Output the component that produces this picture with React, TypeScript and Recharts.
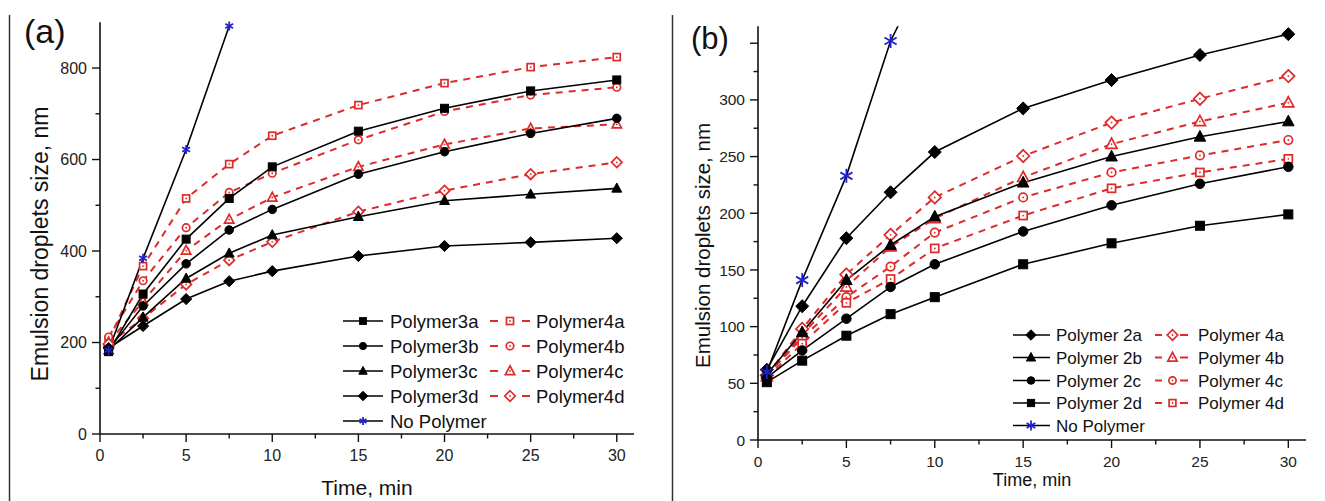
import React from 'react';
import { LineChart, Line, XAxis, YAxis } from 'recharts';

// ---------- data ----------
const timesA = [0.5, 2.5, 5, 7.5, 10, 15, 20, 25, 30];
const polymer3a = [180, 306, 426, 515, 584, 662, 712, 750, 774];
const polymer3b = [185, 280, 372, 446, 491, 568, 617, 657, 690];
const polymer3c = [183, 255, 340, 395, 435, 475, 510, 524, 537];
const polymer3d = [188, 236, 295, 334, 356, 389, 411, 419, 428];
const polymer4aA = [205, 367, 515, 590, 652, 719, 767, 802, 824];
const polymer4bA = [212, 335, 451, 528, 570, 643, 705, 741, 758];
const polymer4cA = [200, 290, 401, 469, 517, 584, 633, 668, 677];
const polymer4dA = [197, 253, 327, 380, 420, 486, 532, 568, 594];
const noPolymerA = [183, 384, 622, 892];

const timesB = [0.5, 2.5, 5, 7.5, 10, 15, 20, 25, 30];
const polymer2a = [62, 118, 178, 218.5, 254, 292.5, 317.5, 339.6, 358];
const polymer2b = [58, 95, 141, 172, 197, 227, 250, 267.5, 281];
const polymer2c = [55, 79, 107, 135, 155, 184, 207, 226, 241];
const polymer2d = [51, 70, 92, 111, 126, 155, 173.5, 189, 199];
const polymer4aB = [57, 98, 146, 181, 214, 250.5, 280, 301, 321];
const polymer4bB = [56, 93, 135, 170.5, 195.5, 231.7, 261, 281, 297.5];
const polymer4cB = [57, 90, 126, 153, 183, 214, 236, 251, 264.6];
const polymer4dB = [55, 85, 121, 142, 169, 198, 222, 236, 248];
const noPolymerB = [60, 141, 233, 352, 430];

const xTicks = [0, 2.5, 5, 7.5, 10, 12.5, 15, 17.5, 20, 22.5, 25, 27.5, 30];
const yTicksA = [0, 100, 200, 300, 400, 500, 600, 700, 800];
const yTicksB = [0, 25, 50, 75, 100, 125, 150, 175, 200, 225, 250, 275, 300, 325, 350];

const dataA = timesA.map((t, i) => ({
  t,
  p3a: polymer3a[i], p3b: polymer3b[i], p3c: polymer3c[i], p3d: polymer3d[i],
  p4a: polymer4aA[i], p4b: polymer4bA[i], p4c: polymer4cA[i], p4d: polymer4dA[i],
  np: noPolymerA[i],
}));
const dataB = timesB.map((t, i) => ({
  t,
  p2a: polymer2a[i], p2b: polymer2b[i], p2c: polymer2c[i], p2d: polymer2d[i],
  p4a: polymer4aB[i], p4b: polymer4bB[i], p4c: polymer4cB[i], p4d: polymer4dB[i],
  np: noPolymerB[i],
}));

// ---------- styles ----------
const RED = '#dd2a2a';
const BLUE = '#2222cc';
const FONT = '"Liberation Sans", Arial, sans-serif';

type Shape = 'square' | 'circle' | 'triangle' | 'diamond' | 'star';

function Marker({ shape, cx, cy, s, color, open }: { shape: Shape; cx: number; cy: number; s: number; color: string; open?: boolean }) {
  const fill = open ? '#fff' : color;
  const sw = open ? 1.7 : 1;
  const dotIn = open ? <circle cx={cx} cy={cy} r={0.9} fill={color} /> : null;
  if (shape === 'square') {
    return (
      <g>
        <rect x={cx - s / 2} y={cy - s / 2} width={s} height={s} fill={fill} stroke={color} strokeWidth={sw} />
        {dotIn}
      </g>
    );
  }
  if (shape === 'circle') {
    return (
      <g>
        <circle cx={cx} cy={cy} r={s / 2} fill={fill} stroke={color} strokeWidth={sw} />
        {dotIn}
      </g>
    );
  }
  if (shape === 'triangle') {
    const pts = `${cx},${cy - s * 0.6} ${cx - s * 0.55},${cy + s * 0.42} ${cx + s * 0.55},${cy + s * 0.42}`;
    return (
      <g>
        <polygon points={pts} fill={fill} stroke={color} strokeWidth={sw} strokeLinejoin="miter" />
        {dotIn}
      </g>
    );
  }
  if (shape === 'diamond') {
    const h = s * 0.62;
    const pts = `${cx},${cy - h} ${cx + h},${cy} ${cx},${cy + h} ${cx - h},${cy}`;
    return (
      <g>
        <polygon points={pts} fill={fill} stroke={color} strokeWidth={sw} />
        {dotIn}
      </g>
    );
  }
  // star (asterisk)
  const r = s / 2;
  const lines = [90, 30, 150].map((a) => {
    const rad = (a * Math.PI) / 180;
    const dx = Math.cos(rad) * r;
    const dy = Math.sin(rad) * r;
    return <line key={a} x1={cx - dx} y1={cy - dy} x2={cx + dx} y2={cy + dy} stroke={color} strokeWidth={1.8} />;
  });
  return <g>{lines}</g>;
}

const makeDot = (shape: Shape, s: number, color: string, open: boolean, maxVal?: number) => (p: any) => {
  const k = `d-${p.index}`;
  if (p.cx == null || p.cy == null || p.value == null || (maxVal !== undefined && p.value > maxVal)) return <g key={k} />;
  return (
    <g key={k}>
      <Marker shape={shape} cx={p.cx} cy={p.cy} s={s} color={color} open={open} />
    </g>
  );
};

const makeXTick = (fontSize: number) => (p: any) => {
  const v = p.payload.value;
  const major = v % 5 === 0;
  return (
    <g>
      <line x1={p.x} y1={p.y} x2={p.x} y2={p.y + (major ? 8 : 4.5)} stroke="#111" strokeWidth={1.4} />
      {major && (
        <text x={p.x} y={p.y + 27} textAnchor="middle" fontSize={fontSize} fontFamily={FONT} fill="#222">
          {v}
        </text>
      )}
    </g>
  );
};

const makeYTick = (fontSize: number, majorStep: number, maxLabel: number) => (p: any) => {
  const v = p.payload.value;
  const major = v % majorStep === 0;
  return (
    <g>
      <line x1={p.x} y1={p.y} x2={p.x - (major ? 8 : 4.5)} y2={p.y} stroke="#111" strokeWidth={1.4} />
      {major && v <= maxLabel && (
        <text x={p.x - 13} y={p.y + fontSize * 0.36} textAnchor="end" fontSize={fontSize} fontFamily={FONT} fill="#222">
          {v}
        </text>
      )}
    </g>
  );
};

type SeriesDef = { key: string; name: string; shape: Shape; red: boolean; s: number };

const seriesA: SeriesDef[] = [
  { key: 'p4a', name: 'Polymer4a', shape: 'square', red: true, s: 7 },
  { key: 'p4b', name: 'Polymer4b', shape: 'circle', red: true, s: 7.5 },
  { key: 'p4c', name: 'Polymer4c', shape: 'triangle', red: true, s: 8.5 },
  { key: 'p4d', name: 'Polymer4d', shape: 'diamond', red: true, s: 8.5 },
  { key: 'p3a', name: 'Polymer3a', shape: 'square', red: false, s: 8 },
  { key: 'p3b', name: 'Polymer3b', shape: 'circle', red: false, s: 8.5 },
  { key: 'p3c', name: 'Polymer3c', shape: 'triangle', red: false, s: 9 },
  { key: 'p3d', name: 'Polymer3d', shape: 'diamond', red: false, s: 9 },
];

const seriesB: SeriesDef[] = [
  { key: 'p4a', name: 'Polymer 4a', shape: 'diamond', red: true, s: 10 },
  { key: 'p4b', name: 'Polymer 4b', shape: 'triangle', red: true, s: 10 },
  { key: 'p4c', name: 'Polymer 4c', shape: 'circle', red: true, s: 8.5 },
  { key: 'p4d', name: 'Polymer 4d', shape: 'square', red: true, s: 8 },
  { key: 'p2a', name: 'Polymer 2a', shape: 'diamond', red: false, s: 10.5 },
  { key: 'p2b', name: 'Polymer 2b', shape: 'triangle', red: false, s: 10.5 },
  { key: 'p2c', name: 'Polymer 2c', shape: 'circle', red: false, s: 9.5 },
  { key: 'p2d', name: 'Polymer 2d', shape: 'square', red: false, s: 9 },
];

const renderSeries = (defs: SeriesDef[]) =>
  defs.map((d) => (
    <Line
      key={d.key}
      type="linear"
      dataKey={d.key}
      name={d.name}
      stroke={d.red ? RED : '#000'}
      strokeWidth={d.red ? 2 : 1.6}
      strokeDasharray={d.red ? '7 6' : undefined}
      dot={makeDot(d.shape, d.s, d.red ? RED : '#000', d.red)}
      activeDot={false}
      isAnimationActive={false}
    />
  ));

const axisLine = { stroke: '#111', strokeWidth: 1.6 };

function ChartA() {
  return (
    <LineChart width={660} height={501} data={dataA} margin={{ top: 22.3, right: 26, bottom: 37, left: 40 }}>
      <XAxis
        type="number"
        dataKey="t"
        domain={[0, 31]}
        ticks={xTicks}
        interval={0}
        height={30}
        tickSize={0}
        tickMargin={0}
        tickLine={false}
        axisLine={axisLine}
        tick={makeXTick(16)}
      />
      <YAxis
        type="number"
        domain={[0, 900]}
        ticks={yTicksA}
        interval={0}
        width={60}
        tickSize={0}
        tickMargin={0}
        tickLine={false}
        axisLine={axisLine}
        tick={makeYTick(16, 200, 800)}
      />
      {renderSeries(seriesA)}
      <Line
        type="linear"
        dataKey="np"
        name="No Polymer"
        stroke="#000"
        strokeWidth={1.6}
        dot={makeDot('star', 9, BLUE, false)}
        activeDot={false}
        isAnimationActive={false}
      />
    </LineChart>
  );
}

function ChartB() {
  return (
    <LineChart width={665} height={501} data={dataB} margin={{ top: 26.2, right: 19, bottom: 31, left: 38 }}>
      <XAxis
        type="number"
        dataKey="t"
        domain={[0, 31]}
        ticks={xTicks}
        interval={0}
        height={30}
        tickSize={0}
        tickMargin={0}
        tickLine={false}
        axisLine={axisLine}
        tick={makeXTick(15.5)}
      />
      <YAxis
        type="number"
        domain={[0, 365]}
        allowDataOverflow
        ticks={yTicksB}
        interval={0}
        width={60}
        tickSize={0}
        tickMargin={0}
        tickLine={false}
        axisLine={axisLine}
        tick={makeYTick(15.5, 50, 300)}
      />
      {renderSeries(seriesB)}
      <Line
        type="linear"
        dataKey="np"
        name="No Polymer"
        stroke="#000"
        strokeWidth={1.6}
        dot={makeDot('star', 14, BLUE, false, 365)}
        activeDot={false}
        isAnimationActive={false}
      />
    </LineChart>
  );
}

// ---------- legends / titles overlay ----------
function LegendA() {
  const rowsY = [321, 346, 371, 396];
  const black = seriesA.filter((d) => !d.red);
  const red = seriesA.filter((d) => d.red);
  const fs = 18.5;
  return (
    <g fontFamily={FONT} fontSize={fs} fill="#111">
      {black.map((d, i) => (
        <g key={d.key}>
          <line x1={343} x2={383} y1={rowsY[i]} y2={rowsY[i]} stroke="#000" strokeWidth={1.6} />
          <Marker shape={d.shape} cx={363} cy={rowsY[i]} s={d.s * 0.85} color="#000" />
          <text x={390} y={rowsY[i] + 6.8}>{d.name}</text>
        </g>
      ))}
      {red.map((d, i) => (
        <g key={d.key}>
          <line x1={490} x2={498} y1={rowsY[i]} y2={rowsY[i]} stroke={RED} strokeWidth={2} />
          <line x1={522} x2={530} y1={rowsY[i]} y2={rowsY[i]} stroke={RED} strokeWidth={2} />
          <Marker shape={d.shape} cx={510} cy={rowsY[i]} s={d.s} color={RED} open />
          <text x={536} y={rowsY[i] + 6.8}>{d.name}</text>
        </g>
      ))}
      <line x1={343} x2={383} y1={421} y2={421} stroke="#000" strokeWidth={1.6} />
      <Marker shape="star" cx={363} cy={421} s={8} color={BLUE} />
      <text x={390} y={421 + 6.8}>No Polymer</text>
    </g>
  );
}

function LegendB() {
  const rowsY = [335, 357.5, 380.5, 403];
  const black = seriesB.filter((d) => !d.red);
  const red = seriesB.filter((d) => d.red);
  const fs = 17;
  return (
    <g fontFamily={FONT} fontSize={fs} fill="#111">
      {black.map((d, i) => (
        <g key={d.key}>
          <line x1={1013} x2={1050} y1={rowsY[i]} y2={rowsY[i]} stroke="#000" strokeWidth={1.6} />
          <Marker shape={d.shape} cx={1031} cy={rowsY[i]} s={d.s * 0.8} color="#000" />
          <text x={1056} y={rowsY[i] + 6.2}>{d.name}</text>
        </g>
      ))}
      {red.map((d, i) => (
        <g key={d.key}>
          <line x1={1155} x2={1162} y1={rowsY[i]} y2={rowsY[i]} stroke={RED} strokeWidth={2} />
          <line x1={1180} x2={1188} y1={rowsY[i]} y2={rowsY[i]} stroke={RED} strokeWidth={2} />
          <Marker shape={d.shape} cx={1172.5} cy={rowsY[i]} s={d.s * 0.85} color={RED} open />
          <text x={1198} y={rowsY[i] + 6.2}>{d.name}</text>
        </g>
      ))}
      <line x1={1013} x2={1050} y1={425.5} y2={425.5} stroke="#000" strokeWidth={1.6} />
      <Marker shape="star" cx={1031} cy={425.5} s={10} color={BLUE} />
      <text x={1056} y={425.5 + 6.2}>No Polymer</text>
    </g>
  );
}

function Overlay() {
  return (
    <svg width={1325} height={501} style={{ position: 'absolute', left: 0, top: 0, pointerEvents: 'none' }}>
      <line x1={9.5} y1={15} x2={9.5} y2={501} stroke="#333" strokeWidth={1.5} />
      <line x1={672.5} y1={15} x2={672.5} y2={501} stroke="#333" strokeWidth={1.5} />
      <text x={24} y={43} fontFamily={FONT} fontSize={34} fill="#111">(a)</text>
      <text x={691} y={48.5} fontFamily={FONT} fontSize={31} fill="#111">(b)</text>
      <text
        x={0}
        y={0}
        transform="translate(48,244) rotate(-90)"
        textAnchor="middle"
        fontFamily={FONT}
        fontSize={23}
        fill="#111"
      >
        Emulsion droplets size, nm
      </text>
      <text
        x={0}
        y={0}
        transform="translate(710,245.5) rotate(-90)"
        textAnchor="middle"
        fontFamily={FONT}
        fontSize={20.5}
        fill="#111"
      >
        Emulsion droplets size, nm
      </text>
      <text x={367} y={495} textAnchor="middle" fontFamily={FONT} fontSize={21} fill="#111">Time, min</text>
      <text x={1032} y={486} textAnchor="middle" fontFamily={FONT} fontSize={18} fill="#111">Time, min</text>
      <LegendA />
      <LegendB />
    </svg>
  );
}

export default function App() {
  return (
    <div style={{ position: 'absolute', left: 0, top: 0, width: 1325, height: 501, background: '#fff', overflow: 'hidden' }}>
      <div style={{ position: 'absolute', left: 0, top: 0 }}>
        <ChartA />
      </div>
      <div style={{ position: 'absolute', left: 660, top: 0 }}>
        <ChartB />
      </div>
      <Overlay />
    </div>
  );
}
